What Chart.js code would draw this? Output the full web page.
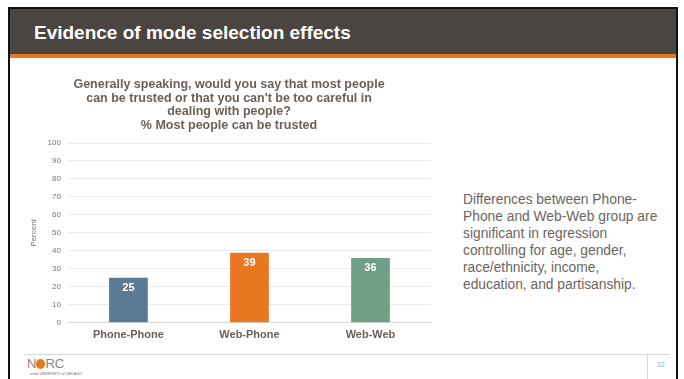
<!DOCTYPE html>
<html>
<head>
<meta charset="utf-8">
<script src="https://cdn.jsdelivr.net/npm/chart.js@4"></script>
<style>
  body { margin: 0; background: #fff; font-family: "Liberation Sans", Arial, sans-serif; }
  #slide { position: relative; width: 684px; height: 379px; overflow: hidden; background: #fff; }
  #frame { position: absolute; left: 8px; top: 7px; width: 670px; height: 380px; border: 2px solid #111; border-bottom: none; box-sizing: border-box; }
  #header { position: absolute; left: 10px; top: 9px; width: 666px; height: 45px; background: #4a4541; }
  #header h1 { margin: 0; position: absolute; left: 24px; top: 13px; color: #fff; font-size: 19px; font-weight: bold; }
  #bar { position: absolute; left: 10px; top: 54px; width: 666px; height: 4px; background: #e87722; }
  #chartBox { position: absolute; left: 20px; top: 78px; width: 420px; height: 262px; }
  #note { position: absolute; left: 463px; top: 191px; width: 197px; font-size: 13.8px; line-height: 17px; color: #6b6560; }
  #footLine { position: absolute; left: 24px; top: 354px; width: 646px; height: 1px; background: #d8d8d8; }
  #footSep { position: absolute; left: 647px; top: 354px; width: 1px; height: 25px; background: #d8d8d8; }
  #page { position: absolute; left: 657px; top: 361px; font-size: 7px; color: #b0b0b0; }
  #logo { position: absolute; left: 27px; top: 356px; font-size: 13px; color: #8a8580; }
  #logo .o { display: inline-block; width: 9px; height: 10px; border-radius: 50%; background: #e87722; vertical-align: -1px; }
  #logo .sub { position: absolute; left: 3px; top: 16px; font-size: 3.5px; white-space: nowrap; color: #6a6560; }
</style>
</head>
<body>
<div id="slide">
  <div id="header"><h1>Evidence of mode selection effects</h1></div>
  <div id="bar"></div>
  <div id="frame"></div>
  <div id="chartBox"><canvas id="myChart"></canvas></div>
  <div id="note">Differences between Phone-Phone and Web-Web group are significant in regression controlling for age, gender, race/ethnicity, income, education, and partisanship.</div>
  <div id="footLine"></div>
  <div id="footSep"></div>
  <div id="page">32</div>
  <div id="logo">N<span class="o"></span>RC<span class="sub">at the UNIVERSITY of CHICAGO</span></div>
</div>
<script>
// data
const groups = ['Phone-Phone', 'Web-Phone', 'Web-Web'];
const trustedPct = [25, 39, 36];
const barColors = ['#5b7b95', '#e87722', '#6f9f86'];
const titleLines = [
  'Generally speaking, would you say that most people',
  "can be trusted or that you can't be too careful in",
  'dealing with people?',
  '% Most people can be trusted'
];

// white value labels just inside the top of each bar
const valueLabels = {
  id: 'valueLabels',
  afterDatasetsDraw(chart) {
    const ctx = chart.ctx;
    const meta = chart.getDatasetMeta(0);
    ctx.save();
    ctx.fillStyle = '#fff';
    ctx.font = 'bold 11px "Liberation Sans", Arial, sans-serif';
    ctx.textAlign = 'center';
    ctx.textBaseline = 'middle';
    meta.data.forEach((bar, i) => {
      ctx.fillText(trustedPct[i], bar.x, bar.y + 10);
    });
    ctx.restore();
  }
};

const myChart = document.getElementById('myChart');

let barChart = new Chart(myChart, {
  type: 'bar',
  data: {
    labels: groups,
    datasets: [{
      data: trustedPct,
      backgroundColor: barColors,
      barPercentage: 0.64,
      categoryPercentage: 0.5
    }]
  },
  options: {
    responsive: true,
    maintainAspectRatio: false,
    animation: false,
    layout: { padding: { left: 7, right: 9, top: 0, bottom: 0 } },
    plugins: {
      legend: { display: false },
      tooltip: { enabled: false },
      title: {
        display: true,
        text: titleLines,
        color: '#6b6059',
        font: { family: '"Liberation Sans", Arial, sans-serif', size: 12.5, weight: 'bold', lineHeight: 1.08 },
        padding: { top: 0, bottom: 11 }
      }
    },
    scales: {
      x: {
        grid: { display: false },
        border: { color: '#d9d9d9' },
        ticks: {
          color: '#6b6059',
          font: { family: '"Liberation Sans", Arial, sans-serif', size: 11, weight: 'bold' },
          padding: -2
        }
      },
      y: {
        min: 0,
        max: 100,
        ticks: {
          stepSize: 10,
          color: '#7a7570',
          font: { family: '"Liberation Sans", Arial, sans-serif', size: 8 },
          padding: 7
        },
        grid: { color: '#ebebeb', drawTicks: false },
        border: { display: false },
        title: {
          display: true,
          text: 'Percent',
          color: '#7a7570',
          font: { family: '"Liberation Sans", Arial, sans-serif', size: 8 },
          padding: 2
        }
      }
    }
  },
  plugins: [valueLabels]
});
</script>
</body>
</html>
